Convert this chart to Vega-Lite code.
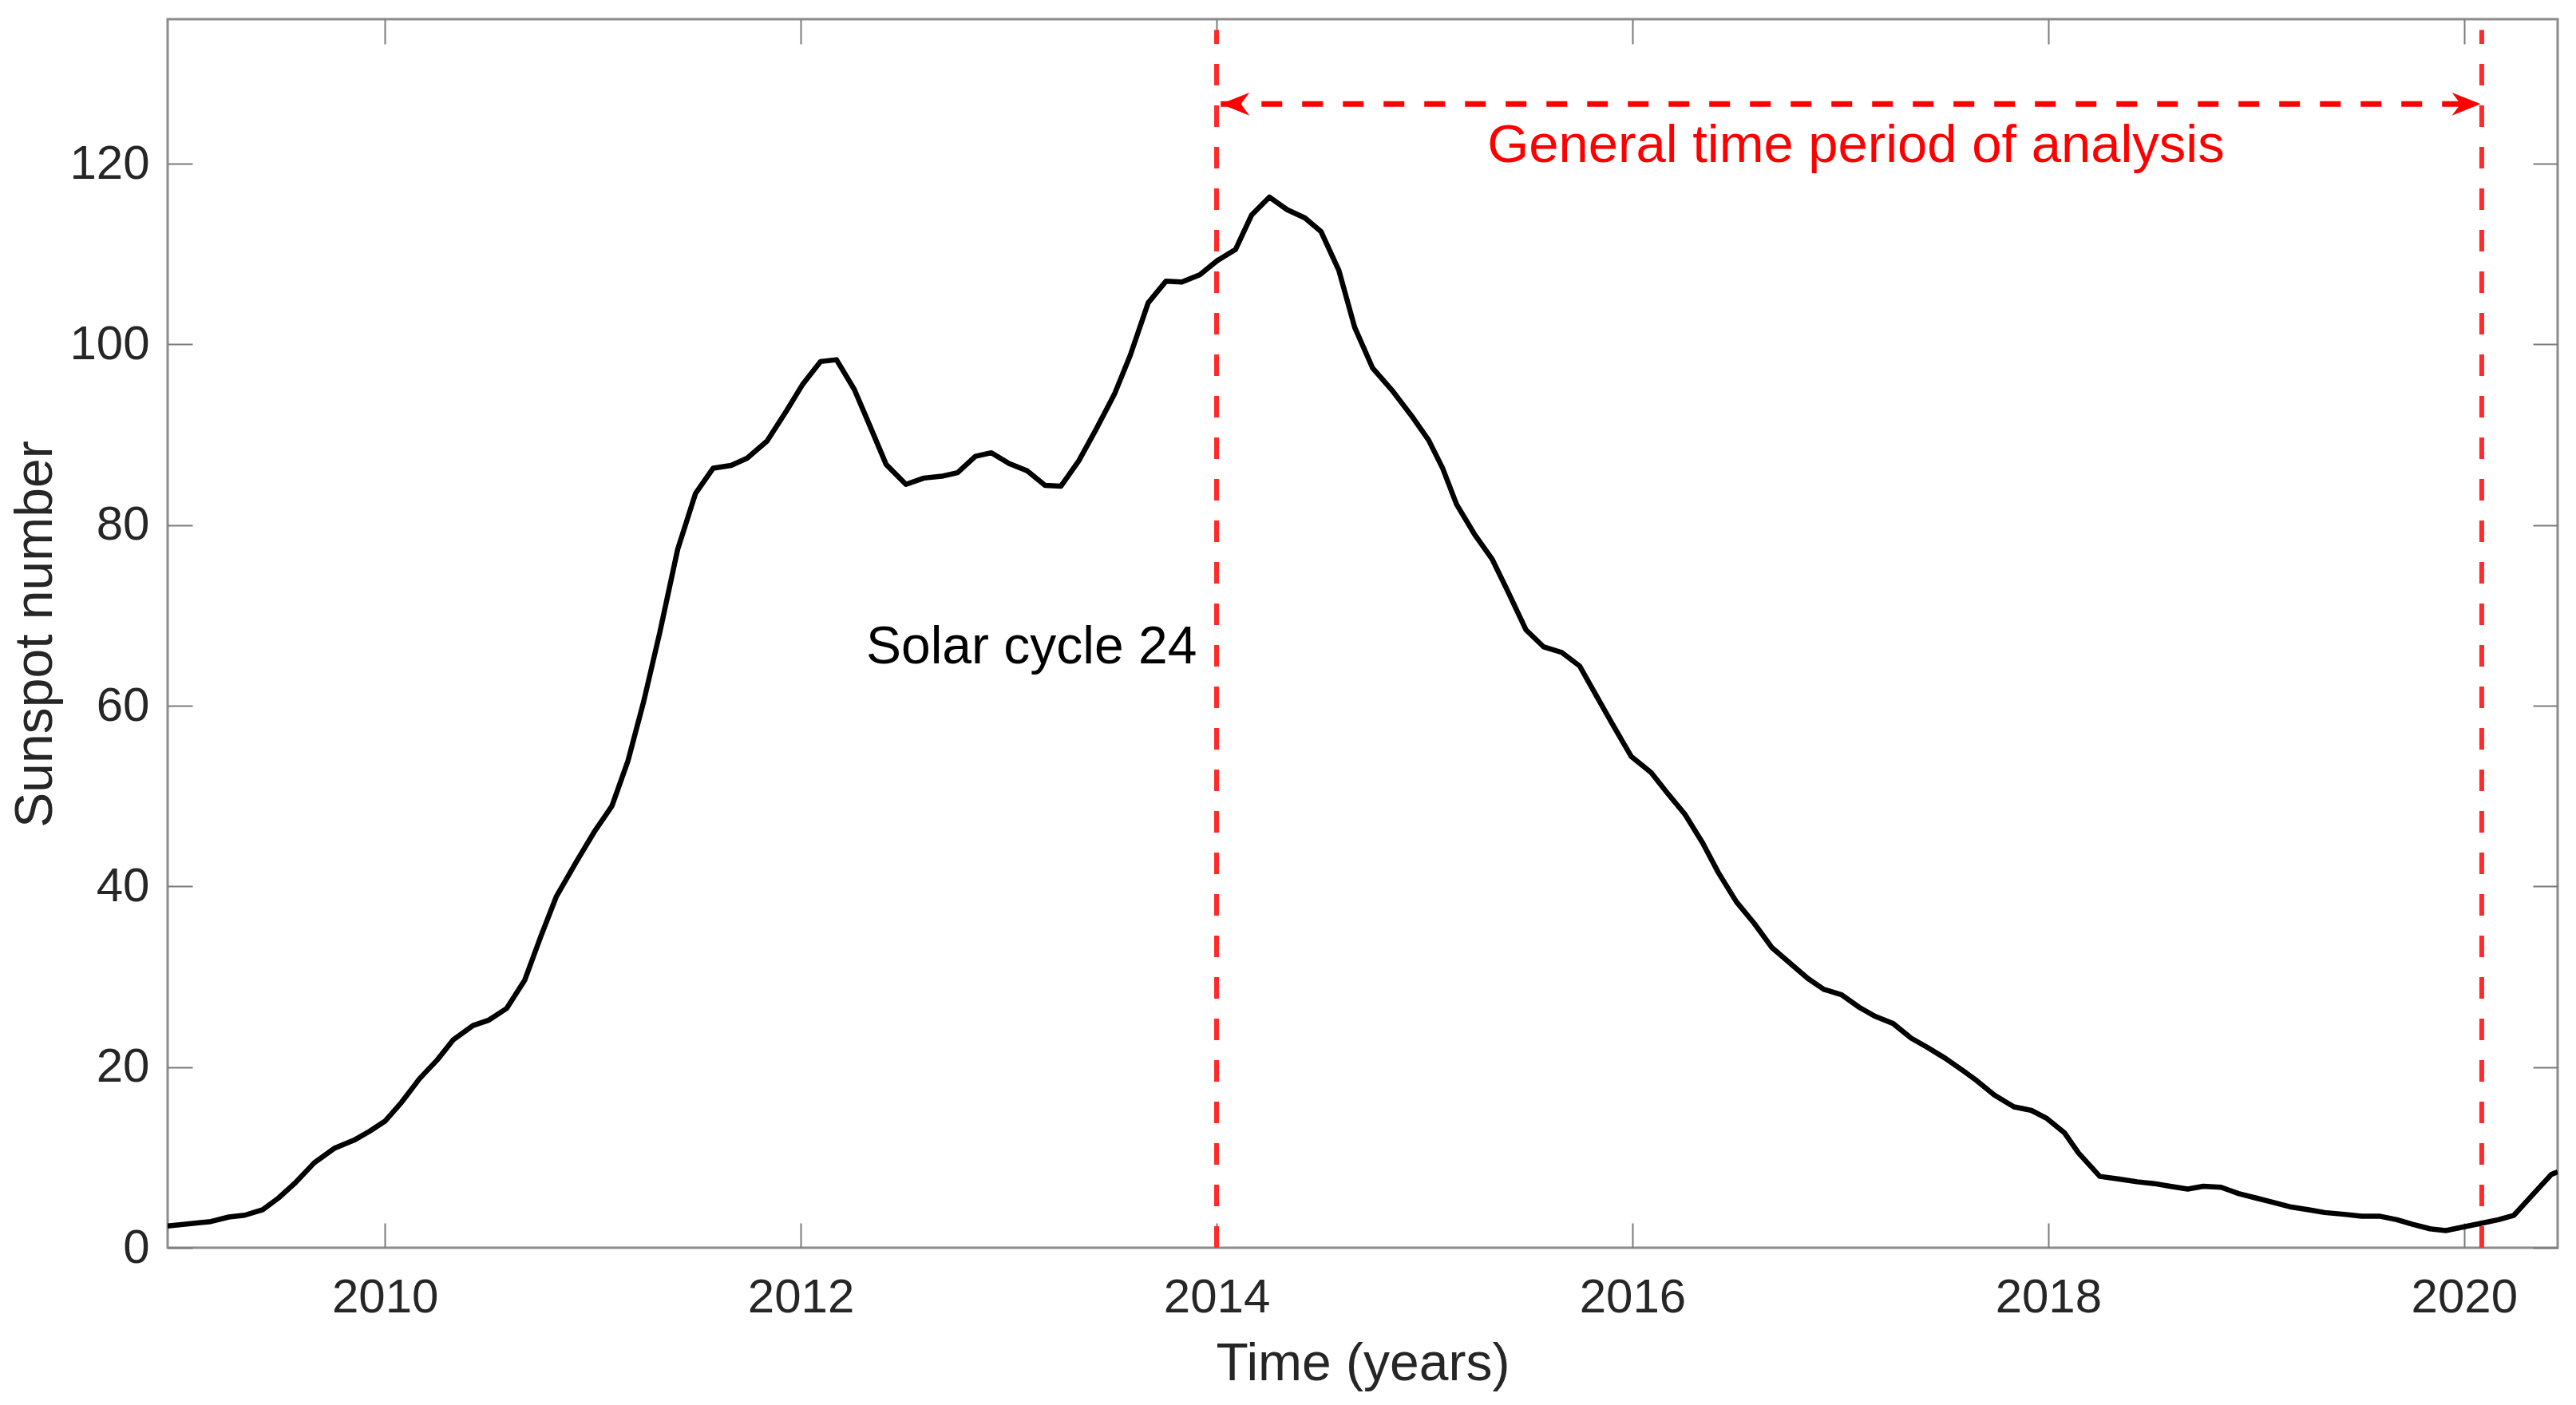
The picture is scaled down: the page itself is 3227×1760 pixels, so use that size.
{
  "$schema": "https://vega.github.io/schema/vega-lite/v6.json",
  "width": 2994,
  "height": 1539,
  "autosize": {"type": "none"},
  "padding": {"left": 210, "top": 24, "right": 23, "bottom": 197},
  "background": "white",
  "config": {
    "view": {"stroke": "#8c8c8c", "strokeWidth": 3},
    "axis": {
      "labelFont": "Liberation Sans",
      "titleFont": "Liberation Sans",
      "labelFontSize": 60,
      "titleFontSize": 66,
      "titleFontWeight": "normal",
      "labelColor": "#262626",
      "titleColor": "#262626",
      "tickColor": "#7a7a7a",
      "tickWidth": 2,
      "grid": false,
      "domain": false,
      "labelFlush": false,
      "labelOverlap": false
    }
  },
  "datasets": {
    "ssn": [
      {"year": 2008.955, "ssn": 2.4},
      {"year": 2009.163, "ssn": 2.9},
      {"year": 2009.249, "ssn": 3.4},
      {"year": 2009.326, "ssn": 3.6},
      {"year": 2009.412, "ssn": 4.2},
      {"year": 2009.488, "ssn": 5.5},
      {"year": 2009.565, "ssn": 7.1},
      {"year": 2009.66, "ssn": 9.4},
      {"year": 2009.756, "ssn": 11.0},
      {"year": 2009.851, "ssn": 11.9},
      {"year": 2009.927, "ssn": 12.9},
      {"year": 2010.0, "ssn": 14.0},
      {"year": 2010.08, "ssn": 16.1},
      {"year": 2010.166, "ssn": 18.7},
      {"year": 2010.252, "ssn": 20.8},
      {"year": 2010.328, "ssn": 23.0},
      {"year": 2010.424, "ssn": 24.6},
      {"year": 2010.5, "ssn": 25.2},
      {"year": 2010.586, "ssn": 26.5},
      {"year": 2010.672, "ssn": 29.6},
      {"year": 2010.749, "ssn": 34.4},
      {"year": 2010.825, "ssn": 38.9},
      {"year": 2010.92, "ssn": 42.7},
      {"year": 2011.006, "ssn": 46.0},
      {"year": 2011.092, "ssn": 48.9},
      {"year": 2011.169, "ssn": 53.9},
      {"year": 2011.245, "ssn": 60.5},
      {"year": 2011.322, "ssn": 68.1},
      {"year": 2011.408, "ssn": 77.3},
      {"year": 2011.494, "ssn": 83.5},
      {"year": 2011.579, "ssn": 86.3},
      {"year": 2011.665, "ssn": 86.6},
      {"year": 2011.742, "ssn": 87.4},
      {"year": 2011.838, "ssn": 89.3},
      {"year": 2011.933, "ssn": 92.7},
      {"year": 2012.01, "ssn": 95.6},
      {"year": 2012.095, "ssn": 98.1},
      {"year": 2012.172, "ssn": 98.3},
      {"year": 2012.258, "ssn": 95.0},
      {"year": 2012.334, "ssn": 90.9},
      {"year": 2012.411, "ssn": 86.7},
      {"year": 2012.506, "ssn": 84.5},
      {"year": 2012.592, "ssn": 85.2},
      {"year": 2012.678, "ssn": 85.4},
      {"year": 2012.754, "ssn": 85.8},
      {"year": 2012.84, "ssn": 87.6},
      {"year": 2012.917, "ssn": 88.0},
      {"year": 2013.003, "ssn": 86.8},
      {"year": 2013.089, "ssn": 86.0},
      {"year": 2013.175, "ssn": 84.4},
      {"year": 2013.251, "ssn": 84.3},
      {"year": 2013.337, "ssn": 87.1},
      {"year": 2013.423, "ssn": 90.7},
      {"year": 2013.509, "ssn": 94.5},
      {"year": 2013.585, "ssn": 98.8},
      {"year": 2013.671, "ssn": 104.6},
      {"year": 2013.757, "ssn": 107.0},
      {"year": 2013.833, "ssn": 106.9},
      {"year": 2013.919, "ssn": 107.7},
      {"year": 2014.005, "ssn": 109.3},
      {"year": 2014.091, "ssn": 110.5},
      {"year": 2014.168, "ssn": 114.3},
      {"year": 2014.254, "ssn": 116.3},
      {"year": 2014.34, "ssn": 114.9},
      {"year": 2014.425, "ssn": 114.0},
      {"year": 2014.502, "ssn": 112.5},
      {"year": 2014.588, "ssn": 108.2},
      {"year": 2014.664, "ssn": 101.9},
      {"year": 2014.75, "ssn": 97.4},
      {"year": 2014.848, "ssn": 94.8},
      {"year": 2014.944, "ssn": 91.9},
      {"year": 2015.02, "ssn": 89.4},
      {"year": 2015.087, "ssn": 86.3},
      {"year": 2015.154, "ssn": 82.3},
      {"year": 2015.24, "ssn": 79.0},
      {"year": 2015.326, "ssn": 76.2},
      {"year": 2015.402, "ssn": 72.6},
      {"year": 2015.488, "ssn": 68.4},
      {"year": 2015.574, "ssn": 66.5},
      {"year": 2015.66, "ssn": 65.9},
      {"year": 2015.746, "ssn": 64.4},
      {"year": 2015.822, "ssn": 61.3},
      {"year": 2015.908, "ssn": 57.8},
      {"year": 2015.994, "ssn": 54.4},
      {"year": 2016.09, "ssn": 52.6},
      {"year": 2016.166, "ssn": 50.4},
      {"year": 2016.252, "ssn": 48.0},
      {"year": 2016.338, "ssn": 44.8},
      {"year": 2016.414, "ssn": 41.5},
      {"year": 2016.5, "ssn": 38.3},
      {"year": 2016.586, "ssn": 35.9},
      {"year": 2016.672, "ssn": 33.2},
      {"year": 2016.758, "ssn": 31.5},
      {"year": 2016.844, "ssn": 29.8},
      {"year": 2016.921, "ssn": 28.6},
      {"year": 2017.006, "ssn": 28.0},
      {"year": 2017.092, "ssn": 26.6},
      {"year": 2017.169, "ssn": 25.6},
      {"year": 2017.255, "ssn": 24.8},
      {"year": 2017.341, "ssn": 23.2},
      {"year": 2017.417, "ssn": 22.2},
      {"year": 2017.503, "ssn": 21.0},
      {"year": 2017.59, "ssn": 19.6},
      {"year": 2017.656, "ssn": 18.5},
      {"year": 2017.741, "ssn": 16.9},
      {"year": 2017.835, "ssn": 15.6},
      {"year": 2017.919, "ssn": 15.2},
      {"year": 2017.994, "ssn": 14.3},
      {"year": 2018.079, "ssn": 12.7},
      {"year": 2018.145, "ssn": 10.5},
      {"year": 2018.248, "ssn": 7.9},
      {"year": 2018.342, "ssn": 7.6},
      {"year": 2018.427, "ssn": 7.3},
      {"year": 2018.511, "ssn": 7.1},
      {"year": 2018.586, "ssn": 6.8},
      {"year": 2018.671, "ssn": 6.5},
      {"year": 2018.746, "ssn": 6.8},
      {"year": 2018.831, "ssn": 6.7},
      {"year": 2018.915, "ssn": 6.0},
      {"year": 2019.0, "ssn": 5.5},
      {"year": 2019.085, "ssn": 5.0},
      {"year": 2019.169, "ssn": 4.5},
      {"year": 2019.254, "ssn": 4.2},
      {"year": 2019.329, "ssn": 3.9},
      {"year": 2019.423, "ssn": 3.7},
      {"year": 2019.508, "ssn": 3.5},
      {"year": 2019.592, "ssn": 3.5},
      {"year": 2019.677, "ssn": 3.1},
      {"year": 2019.752, "ssn": 2.6},
      {"year": 2019.836, "ssn": 2.1},
      {"year": 2019.912, "ssn": 1.9},
      {"year": 2019.996, "ssn": 2.3},
      {"year": 2020.08, "ssn": 2.7},
      {"year": 2020.165, "ssn": 3.1},
      {"year": 2020.24, "ssn": 3.6},
      {"year": 2020.335, "ssn": 6.0},
      {"year": 2020.419, "ssn": 8.1},
      {"year": 2020.45, "ssn": 8.4}
    ],
    "vlines": [
      {"year": 2014.0, "y0": 0, "y1": 134.8},
      {"year": 2020.085, "y0": 0, "y1": 134.8}
    ],
    "span": [
      {"start": 2014.02, "end": 2020.08, "level": 126.6}
    ],
    "labels": [
      {"year": 2017.075, "value": 120.2, "text": "General time period of analysis", "kind": "period"},
      {"year": 2013.11, "value": 64.7, "text": "Solar cycle 24", "kind": "cycle"}
    ]
  },
  "resolve": {"axis": {"x": "independent", "y": "independent"}},
  "layer": [
    {
      "data": {"name": "ssn"},
      "mark": {"type": "line", "color": "#000000", "strokeWidth": 6.5, "clip": true, "strokeJoin": "round"},
      "encoding": {
        "x": {
          "field": "year", "type": "quantitative",
          "scale": {"domain": [2008.955, 2020.45], "nice": false, "zero": false},
          "axis": {
            "orient": "bottom", "title": "Time (years)",
            "values": [2010, 2012, 2014, 2016, 2018, 2020], "format": "d",
            "tickSize": -31, "labelPadding": 64,
            "titleX": 1497, "titleY": 165, "titleBaseline": "alphabetic", "titleAnchor": null
          }
        },
        "y": {
          "field": "ssn", "type": "quantitative",
          "scale": {"domain": [0, 136], "nice": false, "zero": true},
          "axis": {
            "orient": "left", "title": "Sunspot number",
            "values": [0, 20, 40, 60, 80, 100, 120],
            "tickSize": -31, "labelPadding": 54,
            "titleX": -146, "titleY": 770, "titleBaseline": "alphabetic", "titleAngle": -90
          }
        }
      }
    },
    {
      "data": {"name": "vlines"},
      "mark": {"type": "rule", "color": "#ff2a2a", "strokeWidth": 6, "strokeDash": [27, 25]},
      "encoding": {
        "x": {
          "field": "year", "type": "quantitative",
          "axis": {"orient": "top", "labels": false, "title": null, "values": [2010, 2012, 2014, 2016, 2018, 2020], "tickSize": -31}
        },
        "y": {
          "field": "y0", "type": "quantitative",
          "axis": {"orient": "right", "labels": false, "title": null, "values": [0, 20, 40, 60, 80, 100, 120], "tickSize": -31}
        },
        "y2": {"field": "y1"}
      }
    },
    {
      "data": {"name": "span"},
      "mark": {"type": "rule", "color": "#ff0000", "strokeWidth": 7, "strokeDash": [26, 25]},
      "encoding": {
        "x": {"field": "start", "type": "quantitative", "axis": null},
        "x2": {"field": "end"},
        "y": {"field": "level", "type": "quantitative", "axis": null}
      }
    },
    {
      "data": {"name": "span"},
      "mark": {"type": "point", "shape": "M0,0L2,-0.8L1.4,0L2,0.8Z", "filled": true, "size": 1300, "color": "#ff0000", "opacity": 1, "strokeWidth": 0},
      "encoding": {
        "x": {"field": "start", "type": "quantitative", "axis": null},
        "y": {"field": "level", "type": "quantitative", "axis": null}
      }
    },
    {
      "data": {"name": "span"},
      "mark": {"type": "point", "shape": "M0,0L-2,-0.8L-1.4,0L-2,0.8Z", "filled": true, "size": 1300, "color": "#ff0000", "opacity": 1, "strokeWidth": 0},
      "encoding": {
        "x": {"field": "end", "type": "quantitative", "axis": null},
        "y": {"field": "level", "type": "quantitative", "axis": null}
      }
    },
    {
      "data": {"name": "labels"},
      "transform": [{"filter": "datum.kind === 'period'"}],
      "mark": {"type": "text", "font": "Liberation Sans", "fontSize": 67, "color": "#ff0000", "align": "center", "baseline": "alphabetic"},
      "encoding": {
        "x": {"field": "year", "type": "quantitative", "axis": null},
        "y": {"field": "value", "type": "quantitative", "axis": null},
        "text": {"field": "text"}
      }
    },
    {
      "data": {"name": "labels"},
      "transform": [{"filter": "datum.kind === 'cycle'"}],
      "mark": {"type": "text", "font": "Liberation Sans", "fontSize": 66, "color": "#000000", "align": "center", "baseline": "alphabetic"},
      "encoding": {
        "x": {"field": "year", "type": "quantitative", "axis": null},
        "y": {"field": "value", "type": "quantitative", "axis": null},
        "text": {"field": "text"}
      }
    }
  ]
}
